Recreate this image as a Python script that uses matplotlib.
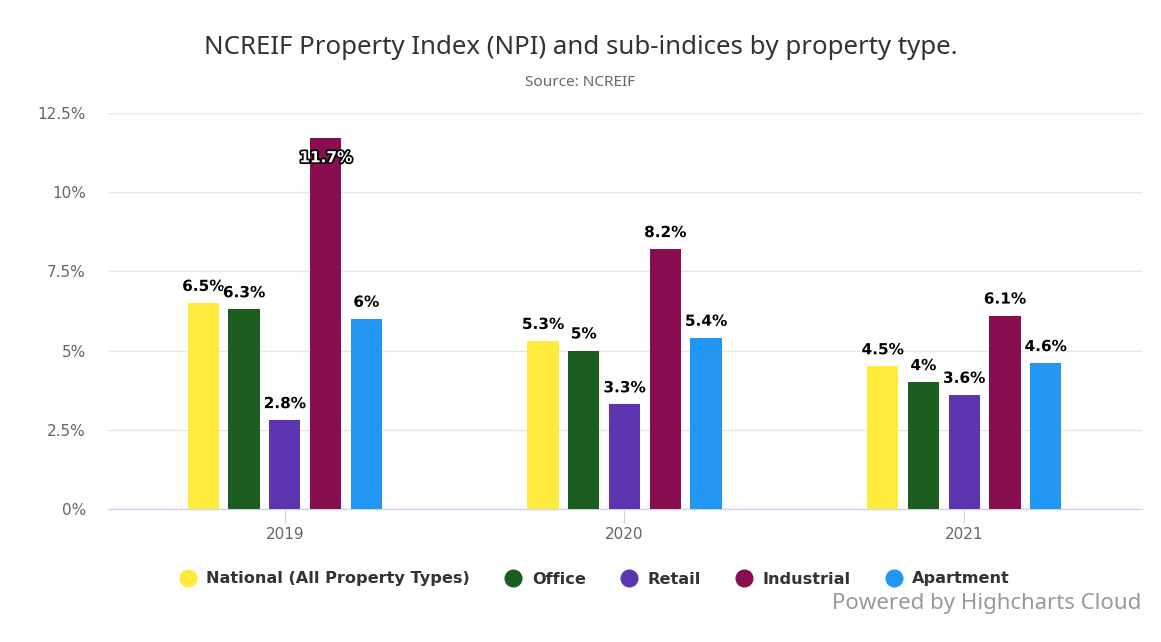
import numpy as np
import matplotlib
matplotlib.use("Agg")
import matplotlib.pyplot as plt
from matplotlib import patheffects as pe
from matplotlib.lines import Line2D

# veri
years = ["2019", "2020", "2021"]
series_names = ["National (All Property Types)", "Office", "Retail", "Industrial", "Apartment"]
national = [6.5, 5.3, 4.5]
office = [6.3, 5.0, 4.0]
retail = [2.8, 3.3, 3.6]
industrial = [11.7, 8.2, 6.1]
apartment = [6.0, 5.4, 4.6]
colors = ["#FFEB3B", "#1B5E20", "#5E35B1", "#880E4F", "#2196F3"]
y_ticks = [0, 2.5, 5, 7.5, 10, 12.5]
y_tick_labels = ["0%", "2.5%", "5%", "7.5%", "10%", "12.5%"]


def fmt(v):
    return f"{v:g}%"


fig = plt.figure(figsize=(11.61, 6.42), dpi=100)
ax = fig.add_axes([108 / 1161, 1 - 509 / 642, (1142 - 108) / 1161, (509 - 113) / 642])

x = np.arange(len(years))
width = 0.092
step = 0.12
all_series = [national, office, retail, industrial, apartment]
ymax = 12.5

for i, (name, vals, c) in enumerate(zip(series_names, all_series, colors)):
    pos = x + (i - 2) * step
    ax.bar(pos, vals, width=width, color=c, label=name, zorder=3)
    for p, v in zip(pos, vals):
        if v + 0.9 > ymax:
            # tepeye sığmıyor, çubuğun içine yaz
            ax.annotate(fmt(v), (p, v), xytext=(0, -14), textcoords="offset points",
                        ha="center", va="center", fontsize=11, fontweight="bold",
                        color="white", zorder=5,
                        path_effects=[pe.withStroke(linewidth=2.5, foreground="black")])
        else:
            ax.annotate(fmt(v), (p, v), xytext=(0, 12), textcoords="offset points",
                        ha="center", va="center", fontsize=11, fontweight="bold",
                        color="black", zorder=5,
                        path_effects=[pe.withStroke(linewidth=2, foreground="white")])

ax.set_xlim(-0.5206, 2.5236)
ax.set_ylim(0, ymax)
ax.set_yticks(y_ticks)
ax.set_yticklabels(y_tick_labels)
ax.set_xticks(x)
ax.set_xticklabels(years)
ax.grid(axis="y", color="#e6e6e6", linewidth=1, zorder=0)
for s in ["top", "right", "left"]:
    ax.spines[s].set_visible(False)
ax.spines["bottom"].set_color("#ccd6eb")
ax.spines["bottom"].set_linewidth(1)
ax.tick_params(axis="y", length=0, pad=16, labelsize=11, labelcolor="#666666")
ax.tick_params(axis="x", length=10, color="#ccd6eb", pad=3, labelsize=11, labelcolor="#666666")

fig.text(0.5, 1 - 47 / 642, "NCREIF Property Index (NPI) and sub-indices by property type.",
         ha="center", va="center", fontsize=18.6, color="#333333", family="Noto Sans")
fig.text(0.5, 1 - 82 / 642, "Source: NCREIF", ha="center", va="center",
         fontsize=11, color="#666666", family="Noto Sans")
fig.text(1141 / 1161, 1 - 604 / 642, "Powered by Highcharts Cloud", ha="right", va="center",
         fontsize=16, color="#999999", family="Noto Sans")

handles = [Line2D([0], [0], marker="o", linestyle="", markersize=12, color=c) for c in colors]
fig.legend(handles, series_names, loc="center", bbox_to_anchor=(591 / 1161, 1 - 579 / 642),
           ncol=5, frameon=False, handletextpad=0.15, columnspacing=1.68,
           prop={"weight": "bold", "size": 11.6}, labelcolor="#333333")

plt.savefig("out.png", dpi=100)
plt.close()
